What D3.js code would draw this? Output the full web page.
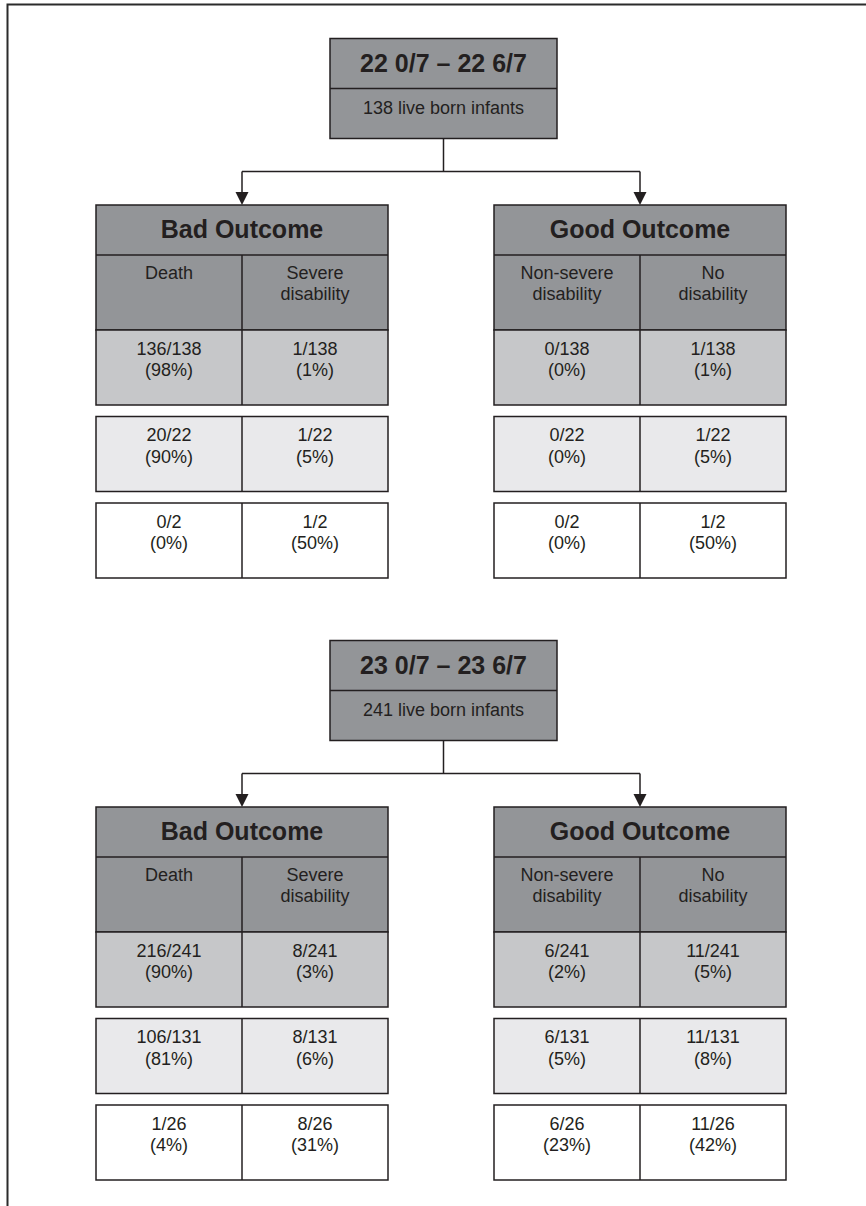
<!DOCTYPE html>
<html>
<head>
<meta charset="utf-8">
<script src="https://cdn.jsdelivr.net/npm/d3@7"></script>
<style>
  html, body { margin: 0; padding: 0; background: #ffffff; }
  svg { display: block; }
</style>
</head>
<body>
<div id="chart"></div>
<script>
// ---------------- DATA ----------------
const sectionTitles = ["22 0/7 \u2013 22 6/7", "23 0/7 \u2013 23 6/7"];
const liveBorn = [138, 241];
const groups = ["Bad Outcome", "Good Outcome"];
const outcomeLabels = [["Death"], ["Severe", "disability"], ["Non-severe", "disability"], ["No", "disability"]];
const outcomeGroup = [0, 0, 1, 1];
// denominators for the three rows of each section
const denominators = [[138, 22, 2], [241, 131, 26]];
// numerators: [section][row][outcome]
const numerators = [
  [[136, 1, 0, 1], [20, 1, 0, 1], [0, 1, 0, 1]],
  [[216, 8, 6, 11], [106, 8, 6, 11], [1, 8, 6, 11]]
];
// percentages as printed
const percents = [
  [[98, 1, 0, 1], [90, 5, 0, 5], [0, 50, 0, 50]],
  [[90, 3, 2, 5], [81, 6, 5, 8], [4, 31, 23, 42]]
];
const rowFills = ["#c6c7c9", "#e9e9eb", "#ffffff"];

// ---------------- LAYOUT ----------------
const W = 866, H = 1206;
const ink = "#231f20";
const headFill = "#939598";
const font = "'Liberation Sans', Arial, Helvetica, sans-serif";

const svg = d3.select("#chart").append("svg").attr("width", W).attr("height", H);

// frame (top + left lines)
svg.append("path")
  .attr("d", `M7.5,${H} L7.5,4.5 L${W},4.5`)
  .attr("fill", "none").attr("stroke", "#2b2b2b").attr("stroke-width", 2);

// scales
const sectionY = d3.scaleLinear().domain([0, 1]).range([38.5, 640.5]);
const groupX = d3.scaleBand().domain(groups).range([96, 786]).paddingInner(106 / 398).paddingOuter(0);
const colX = d3.scaleBand().domain([0, 1]).range([0, groupX.bandwidth()]);
const boxX = d3.scaleLinear().domain([0, 1]).range([330, 557]);
// vertical positions relative to the section top
const rowTop = d3.scaleOrdinal().domain(["box", "boxDiv", "boxBot", "hline", "tableTop", "headDiv", "subBot", "r0", "r1", "r2"])
  .range([0, 50, 100, 133, 166.5, 216.5, 291.5, 291.5, 378, 464.5]);
const rowH = 75;

sectionTitles.forEach((title, s) => {
  const T = sectionY(s);
  const g = svg.append("g");

  // top box
  const bx0 = boxX(0), bx1 = boxX(1), bcx = (bx0 + bx1) / 2;
  g.append("rect").attr("x", bx0).attr("y", T).attr("width", bx1 - bx0).attr("height", rowTop("boxBot"))
    .attr("fill", headFill).attr("stroke", ink).attr("stroke-width", 1.5);
  g.append("line").attr("x1", bx0).attr("x2", bx1).attr("y1", T + rowTop("boxDiv")).attr("y2", T + rowTop("boxDiv"))
    .attr("stroke", ink).attr("stroke-width", 1.5);
  g.append("text").attr("x", bcx).attr("y", T + 33).attr("text-anchor", "middle")
    .attr("font-family", font).attr("font-weight", "bold").attr("font-size", 25).attr("fill", ink)
    .text(title);
  g.append("text").attr("x", bcx).attr("y", T + 75).attr("text-anchor", "middle")
    .attr("font-family", font).attr("font-size", 18).attr("fill", ink)
    .text(`${liveBorn[s]} live born infants`);

  // connectors
  const centers = groups.map(gr => groupX(gr) + groupX.bandwidth() / 2);
  const hy = T + rowTop("hline");
  g.append("line").attr("x1", bcx).attr("x2", bcx).attr("y1", T + rowTop("boxBot")).attr("y2", hy)
    .attr("stroke", ink).attr("stroke-width", 1.5);
  g.append("line").attr("x1", centers[0]).attr("x2", centers[1]).attr("y1", hy).attr("y2", hy)
    .attr("stroke", ink).attr("stroke-width", 1.5);
  const tipY = T + rowTop("tableTop");
  centers.forEach(cx => {
    g.append("line").attr("x1", cx).attr("x2", cx).attr("y1", hy).attr("y2", tipY - 12)
      .attr("stroke", ink).attr("stroke-width", 1.5);
    g.append("path").attr("d", `M${cx - 6.5},${tipY - 13} L${cx + 6.5},${tipY - 13} L${cx},${tipY} Z`)
      .attr("fill", ink);
  });

  // outcome tables
  groups.forEach((gr, gi) => {
    const gx = groupX(gr), gw = groupX.bandwidth();
    const top = T + rowTop("tableTop");
    // header area (title + sub-header)
    g.append("rect").attr("x", gx).attr("y", top).attr("width", gw).attr("height", rowTop("subBot") - rowTop("tableTop"))
      .attr("fill", headFill).attr("stroke", ink).attr("stroke-width", 1.5);
    g.append("line").attr("x1", gx).attr("x2", gx + gw).attr("y1", T + rowTop("headDiv")).attr("y2", T + rowTop("headDiv"))
      .attr("stroke", ink).attr("stroke-width", 1.5);
    g.append("line").attr("x1", gx + colX(1)).attr("x2", gx + colX(1)).attr("y1", T + rowTop("headDiv")).attr("y2", T + rowTop("subBot"))
      .attr("stroke", ink).attr("stroke-width", 1.5);
    g.append("text").attr("x", gx + gw / 2).attr("y", top + 33).attr("text-anchor", "middle")
      .attr("font-family", font).attr("font-weight", "bold").attr("font-size", 25).attr("fill", ink)
      .text(gr);

    const cols = [0, 1, 2, 3].filter(o => outcomeGroup[o] === gi);
    cols.forEach((o, ci) => {
      const cx = gx + colX(ci) + colX.bandwidth() / 2;
      const t = g.append("text").attr("text-anchor", "middle")
        .attr("font-family", font).attr("font-size", 18).attr("fill", ink);
      outcomeLabels[o].forEach((ln, li) => {
        t.append("tspan").attr("x", cx).attr("y", T + rowTop("headDiv") + 24 + li * 20.7).text(ln);
      });
    });

    // data rows
    [0, 1, 2].forEach(r => {
      const ry = T + rowTop("r" + r);
      g.append("rect").attr("x", gx).attr("y", ry).attr("width", gw).attr("height", rowH)
        .attr("fill", rowFills[r]).attr("stroke", ink).attr("stroke-width", 1.5);
      g.append("line").attr("x1", gx + colX(1)).attr("x2", gx + colX(1)).attr("y1", ry).attr("y2", ry + rowH)
        .attr("stroke", ink).attr("stroke-width", 1.5);
      cols.forEach((o, ci) => {
        const cx = gx + colX(ci) + colX.bandwidth() / 2;
        const t = g.append("text").attr("text-anchor", "middle")
          .attr("font-family", font).attr("font-size", 18).attr("fill", ink);
        t.append("tspan").attr("x", cx).attr("y", ry + 24.5).text(`${numerators[s][r][o]}/${denominators[s][r]}`);
        t.append("tspan").attr("x", cx).attr("y", ry + 46).text(`(${percents[s][r][o]}%)`);
      });
    });
  });
});
</script>
</body>
</html>
